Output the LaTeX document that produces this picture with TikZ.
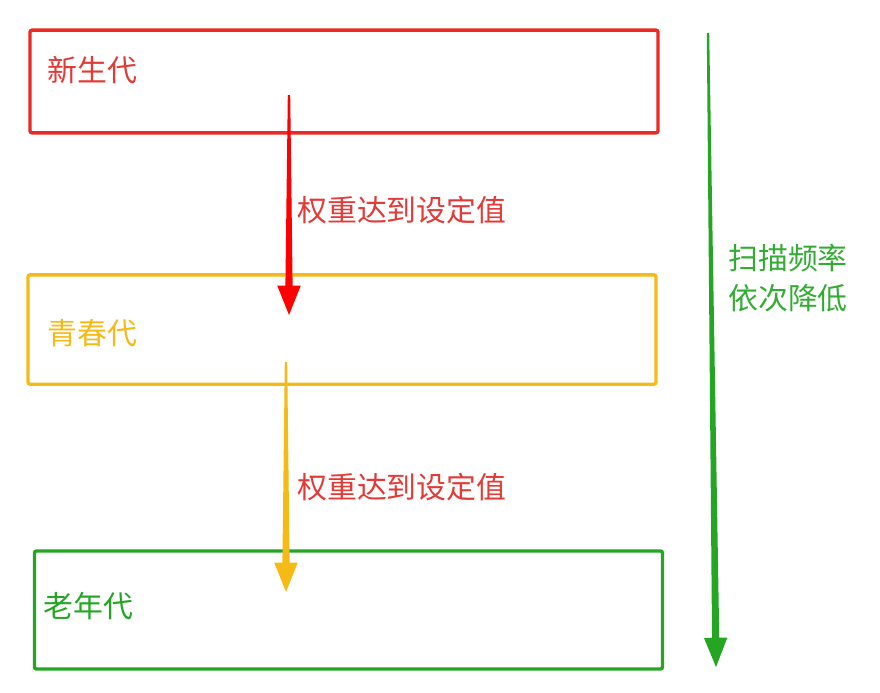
\documentclass[tikz,border=0pt]{standalone}
\usepackage{fontspec}
\setmainfont{Noto Sans CJK SC}
\usetikzlibrary{calc}

\definecolor{genred}{RGB}{234,42,36}
\definecolor{genyellow}{RGB}{246,186,22}
\definecolor{gengreen}{RGB}{36,166,36}
\definecolor{txtred}{RGB}{226,58,54}
\definecolor{txtgreen}{RGB}{52,172,52}

% tapered arrow: #1 start, #2 end, #3 colour
\newcommand\taperarrow[3]{%
  \coordinate (#1-h) at ($(#2)!22pt!(#1)$);
  \fill[#3] ($(#1)!0.9pt!90:(#2)$) -- ($(#1-h)!2.7pt!90:(#2)$)
    -- ($(#1-h)!8.8pt!90:(#2)$) -- (#2)
    -- ($(#1-h)!8.8pt!-90:(#2)$) -- ($(#1-h)!2.7pt!-90:(#2)$)
    -- ($(#1)!0.9pt!-90:(#2)$) -- cycle;
}

\begin{document}
\begin{tikzpicture}[x=0.75pt,y=-0.75pt,
    genbox/.style={draw=#1,line width=2.5pt,rounded corners=1.5pt,
      minimum width=471pt,inner sep=0pt},
    lbl/.style={anchor=west,inner sep=0pt,font=\fontsize{22.4pt}{30pt}\selectfont}]
  \useasboundingbox (0,0) rectangle (880,692);

  % generations
  \node[genbox=genred,minimum height=77pt] (young) at (344,81.5) {};
  \node[genbox=genyellow,minimum height=82pt] (mid) at (342,329.5) {};
  \node[genbox=gengreen,minimum height=88.5pt] (old) at (348.5,610) {};

  \node[lbl,text=txtred] (young label) at (47,70) {新生代};
  \node[lbl,text=genyellow] (mid label) at (47,333) {青春代};
  \node[lbl,text=gengreen] (old label) at (43,606) {老年代};

  % promotion arrows
  \coordinate (p1) at (289,95);  \coordinate (q1) at (289,315);
  \coordinate (p2) at (286,362); \coordinate (q2) at (286,592);
  \taperarrow{p1}{q1}{red}
  \taperarrow{p2}{q2}{genyellow}
  \node[lbl,text=txtred] (w1) at (297,210) {权重达到设定值};
  \node[lbl,text=txtred] (w2) at (297,487) {权重达到设定值};

  % scan frequency
  \coordinate (s1) at (708,33); \coordinate (s2) at (716,667);
  \taperarrow{s1}{s2}{gengreen}
  \node[lbl,text=txtgreen,align=left] (scan) at (728,278)
    {扫描频率\\依次降低};
\end{tikzpicture}
\end{document}
